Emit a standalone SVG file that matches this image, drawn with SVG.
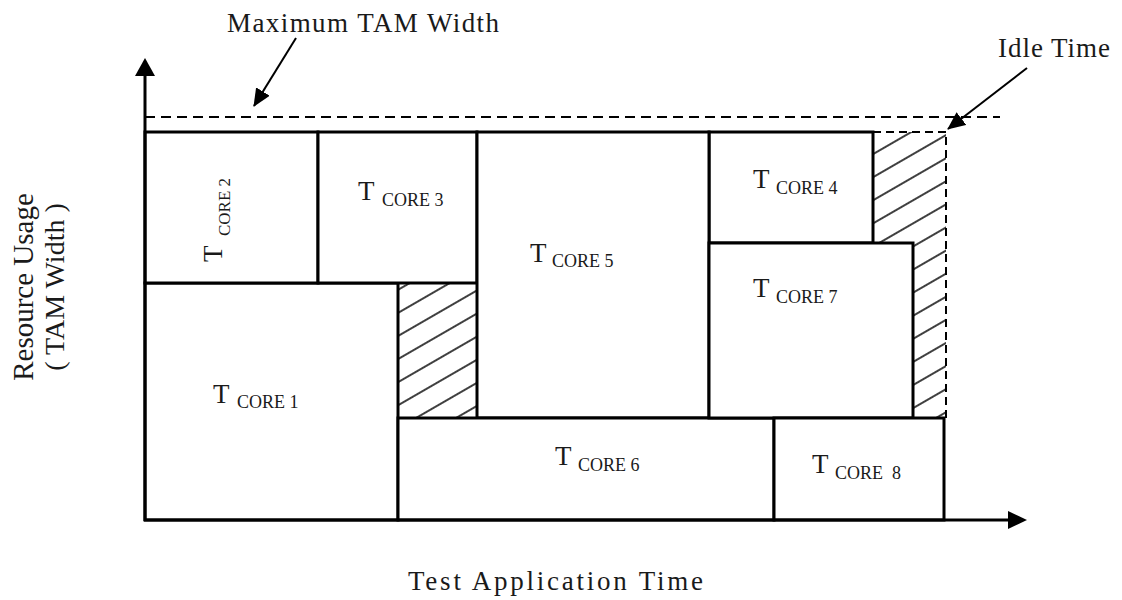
<svg xmlns="http://www.w3.org/2000/svg" width="1122" height="600" viewBox="0 0 1122 600">
  <style>
    .box { fill: #ffffff; stroke: #000000; stroke-width: 3; }
    .axis { stroke: #000000; stroke-width: 3; fill: none; }
    .dash { stroke: #000000; stroke-width: 2; stroke-dasharray: 10 6; fill: none; }
    .dash2 { stroke: #000000; stroke-width: 2; stroke-dasharray: 8 5; fill: none; }
    .lbl { font-family: "Liberation Serif", "Times New Roman", serif; font-size: 27px; fill: #1a1a1a; }
    .t { font-family: "Liberation Serif", "Times New Roman", serif; font-size: 27px; fill: #1a1a1a; }
    .s { font-size: 18px; }
    .ptr { stroke: #000000; stroke-width: 2; fill: none; }
  </style>
  <defs>
    <pattern id="hatch" patternUnits="userSpaceOnUse" width="20" height="20" patternTransform="rotate(-30)">
      <line x1="0" y1="10" x2="20" y2="10" stroke="#000000" stroke-width="1.5"/>
    </pattern>
    <marker id="head" markerWidth="18" markerHeight="16" refX="17" refY="8" orient="auto" markerUnits="userSpaceOnUse" viewBox="0 0 18 16">
      <path d="M0,0 L18,8 L0,16 Z" fill="#000000"/>
    </marker>
  </defs>

  <!-- idle (hatched) regions -->
  <g id="idle-1">
    <rect x="398" y="283" width="79" height="135" fill="url(#hatch)"/>
  </g>
  <g id="idle-2">
    <polygon points="873,132 946,132 946,418 913,418 913,243 873,243" fill="url(#hatch)"/>
    <polyline class="dash2" points="873,132 946,132 946,418"/>
  </g>

  <!-- core test rectangles -->
  <g id="core1">
    <rect class="box" x="145" y="283" width="253" height="237"/>
    <text class="t" x="213" y="403">T<tspan class="s" x="237" y="408">CORE 1</tspan></text>
  </g>
  <g id="core2">
    <rect class="box" x="145" y="132" width="173" height="151"/>
    <text class="t" transform="translate(222,262) rotate(-90)">T<tspan class="s" style="font-size:17px" x="26" y="8">CORE 2</tspan></text>
  </g>
  <g id="core3">
    <rect class="box" x="318" y="132" width="159" height="151"/>
    <text class="t" x="358" y="200">T<tspan class="s" x="382" y="206">CORE 3</tspan></text>
  </g>
  <g id="core4">
    <rect class="box" x="709" y="132" width="164" height="111"/>
    <text class="t" x="753" y="188">T<tspan class="s" x="776" y="194">CORE 4</tspan></text>
  </g>
  <g id="core5">
    <rect class="box" x="477" y="132" width="232" height="286"/>
    <text class="t" x="530" y="262">T<tspan class="s" x="552" y="267">CORE 5</tspan></text>
  </g>
  <g id="core6">
    <rect class="box" x="398" y="418" width="376" height="102"/>
    <text class="t" x="555" y="465">T<tspan class="s" x="578" y="471">CORE 6</tspan></text>
  </g>
  <g id="core7">
    <rect class="box" x="709" y="243" width="204" height="175"/>
    <text class="t" x="753" y="297">T<tspan class="s" x="776" y="303">CORE 7</tspan></text>
  </g>
  <g id="core8">
    <rect class="box" x="774" y="418" width="170" height="102"/>
    <text class="t" x="812" y="473">T<tspan class="s" x="835" y="479">CORE</tspan><tspan class="s" x="892" y="479">8</tspan></text>
  </g>

  <!-- axes, limit line and pointers -->
  <g id="connectors">
    <line class="dash" x1="145" y1="117" x2="1000" y2="117"/>
    <line class="axis" x1="145" y1="521" x2="145" y2="72"/>
    <polygon points="145,58 135,76 155,76" fill="#000000"/>
    <line class="axis" x1="144" y1="520" x2="1010" y2="520"/>
    <polygon points="1027,520 1008,511 1008,529" fill="#000000"/>
    <line class="ptr" x1="296" y1="38" x2="254" y2="106" marker-end="url(#head)"/>
    <line class="ptr" x1="1027" y1="68" x2="948" y2="129" marker-end="url(#head)"/>
  </g>

  <!-- axis titles and annotations -->
  <g id="labels">
    <text class="lbl" x="227" y="32" textLength="272" lengthAdjust="spacing">Maximum TAM Width</text>
    <text class="lbl" x="998" y="57" textLength="112" lengthAdjust="spacing">Idle Time</text>
    <text class="lbl" x="408" y="590" textLength="295" lengthAdjust="spacing">Test Application Time</text>
    <text class="lbl" style="font-size:29px" transform="translate(33,287) rotate(-90)" text-anchor="middle">Resource Usage</text>
    <text class="lbl" style="font-size:28px" transform="translate(64,287) rotate(-90)" text-anchor="middle">( TAM Width )</text>
  </g>
</svg>
